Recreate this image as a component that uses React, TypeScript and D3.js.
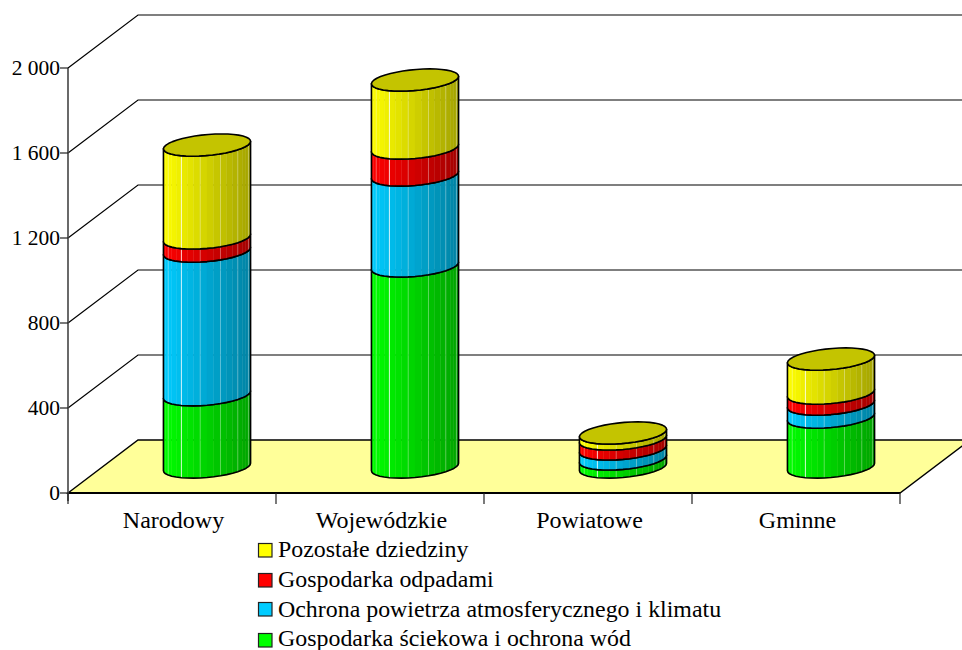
import React from "react";
import * as d3 from "d3";

const categories = ["Narodowy", "Wojewódzkie", "Powiatowe", "Gminne"];
const sewage = [340, 946, 38, 235];
const air = [676, 428, 47, 61];
const waste = [62, 127, 47, 52];
const other = [437, 320, 28, 160];
const seriesNames = ["Gospodarka ściekowa i ochrona wód", "Ochrona powietrza atmosferycznego i klimatu", "Gospodarka odpadami", "Pozostałe dziedziny"];
const seriesValues = [sewage, air, waste, other];
const seriesColors = ["#00ff00", "#00ccff", "#ff0000", "#ffff00"];
const yTicks = [0, 400, 800, 1200, 1600, 2000];
const yTickLabels = ["0", "400", "800", "1 200", "1 600", "2 000"];

const W = 962, H = 650;
const font = "'Liberation Serif','Times New Roman',serif";
const x0 = 68, x1 = 900, y0 = 493, yTop = 68;
const dx = 70, dy = 53;
const x = d3.scaleBand<string>().domain(categories).range([x0, x1]);
const y = d3.scaleLinear().domain([0, 2000]).range([y0, yTop]);
const radius = 41, depthK = 0.21;
const tStart = Math.atan2(dx * depthK, radius);
const FACETS = 20;
const pt = (cx: number, cy: number, t: number): [number, number] => [
  cx + radius * Math.cos(t) + dx * depthK * Math.sin(t),
  cy - dy * depthK * Math.sin(t),
];
const line = d3.line();
const shade = (c: string, f: number) => {
  const r = d3.rgb(c);
  return d3.rgb(r.r * f, r.g * f, r.b * f).formatHex();
};

function Cylinder({ cat, idx }: { cat: string; idx: number }) {
  const cx = (x(cat) as number) + x.bandwidth() / 2 + dx / 2;
  const base = y(0) - 26;
  // left extreme at t = PI + tStart, right extreme at t = 2PI + tStart; sin < 0 faces the viewer
  const ts = d3.range(FACETS + 1).map((i) => Math.PI + tStart + (i / FACETS) * Math.PI);
  let cum = 0;
  const els: React.ReactNode[] = [];
  seriesValues.forEach((vals, s) => {
    const b = cum, tp = cum + vals[idx];
    cum = tp;
    const yb = base - (y0 - y(b));
    const yt = base - (y0 - y(tp));
    d3.range(FACETS).forEach((i) => {
      const a0 = pt(cx, yb, ts[i]), a1 = pt(cx, yb, ts[i + 1]);
      const c0 = pt(cx, yt, ts[i]), c1 = pt(cx, yt, ts[i + 1]);
      const f = 1 - 0.36 * ((a0[0] + a1[0]) / 2 - (cx - 43.5)) / 87;
      els.push(
        <path key={`f${s}-${i}`} d={line([a0, a1, c1, c0])! + "Z"} fill={shade(seriesColors[s], f)} stroke={shade(seriesColors[s], f)} strokeWidth={0.4} />
      );
      if (i > 0 && i % 3 === 0) {
        els.push(
          <line key={`s${s}-${i}`} x1={a0[0]} y1={a0[1]} x2={c0[0]} y2={c0[1]} stroke="#ffffff" strokeOpacity={i === 6 ? 0.8 : 0.3} strokeWidth={1} />
        );
      }
    });
    const front = ts.map((t) => pt(cx, yb, t));
    const frontTop = ts.map((t) => pt(cx, yt, t));
    els.push(
      <path key={`o${s}`} d={line([...front, ...frontTop.slice().reverse()])! + "Z"} fill="none" stroke="#000" strokeWidth={1.6} strokeLinejoin="round" />
    );
    if (s === seriesValues.length - 1) {
      const ring = d3.range(FACETS * 2).map((i) => pt(cx, yt, (i / (FACETS * 2)) * 2 * Math.PI));
      els.push(
        <path key="top" d={line(ring)! + "Z"} fill="#c4c400" stroke="#000" strokeWidth={1.6} strokeLinejoin="round" />
      );
    }
  });
  return <g>{els}</g>;
}

export default function App() {
  const floor = [[x0, y0], [x1, y0], [x1 + dx, y0 - dy], [x0 + dx, y0 - dy]] as [number, number][];
  const legendRows = [3, 2, 1, 0];
  const swatchY = [543, 573, 602, 633];
  const textY = [557, 587, 617, 646];
  return (
    <svg width={W} height={H} style={{ position: "absolute", left: 0, top: 0, background: "#fff" }} fontFamily={font}>
      {yTicks.slice(1).map((t) => (
        <path key={t} d={line([[x0, y(t)], [x0 + dx, y(t) - dy], [W + 5, y(t) - dy]])!} fill="none" stroke="#000" strokeWidth={1.2} />
      ))}
      <path d={line(floor)! + "Z"} fill="#ffff99" stroke="#000" strokeWidth={1.4} />
      <line x1={x0} y1={y0} x2={x1} y2={y0} stroke="#000" strokeWidth={2} />
      <line x1={x0} y1={yTop} x2={x0} y2={y0 + 8} stroke="#444" strokeWidth={1.6} />
      {yTicks.map((t, i) => (
        <g key={t}>
          <line x1={x0 - 8} x2={x0} y1={y(t)} y2={y(t)} stroke="#222" strokeWidth={1.2} />
          <text x={x0 - 8} y={y(t) + 7} textAnchor="end" fontSize={21.5} fill="#000">{yTickLabels[i]}</text>
        </g>
      ))}
      {[...categories.map((c) => x(c) as number), x1].map((v) => (
        <line key={v} x1={v} x2={v} y1={y0} y2={y0 + 11} stroke="#222" strokeWidth={1.2} />
      ))}
      {categories.map((c) => (
        <text key={c} x={(x(c) as number) + x.bandwidth() / 2 + 1.5} y={528} textAnchor="middle" fontSize={24} fill="#000">{c}</text>
      ))}
      {categories.map((c, i) => <Cylinder key={c} cat={c} idx={i} />)}
      {legendRows.map((s, i) => (
        <g key={s}>
          <rect x={258.5} y={swatchY[i] + 0.5} width={13.5} height={13.5} fill={seriesColors[s]} stroke="#222" strokeWidth={1.2} />
          <text x={278} y={textY[i]} fontSize={23.9} fill="#000">{seriesNames[s]}</text>
        </g>
      ))}
    </svg>
  );
}
